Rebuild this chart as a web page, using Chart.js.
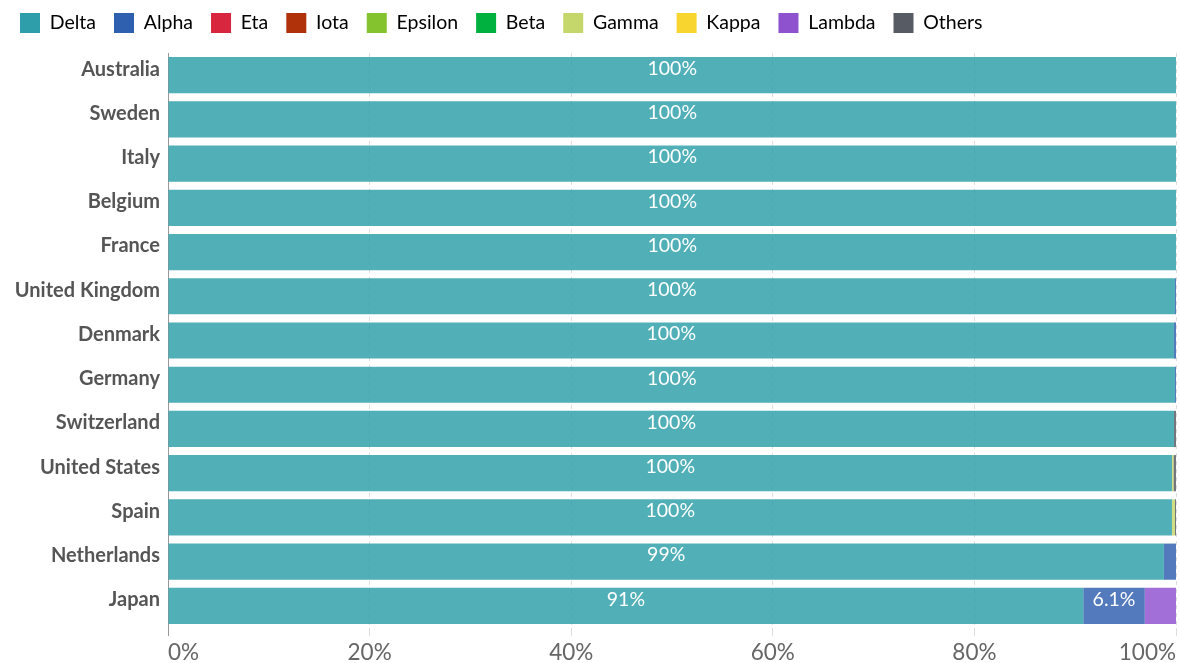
<!DOCTYPE html>
<html>
<head>
<meta charset="utf-8">
<script src="https://cdn.jsdelivr.net/npm/chart.js@4"></script>
<style>
html,body{margin:0;padding:0;background:#fff;overflow:hidden;}
canvas{display:block;}
</style>
</head>
<body>
<canvas id="c" width="1179" height="663"></canvas>
<script>
const countries = ["Australia","Sweden","Italy","Belgium","France","United Kingdom","Denmark","Germany","Switzerland","United States","Spain","Netherlands","Japan"];
const variants = ["Delta","Alpha","Eta","Iota","Epsilon","Beta","Gamma","Kappa","Lambda","Others"];
const colors = ["#2E9FAA","#2F5FAF","#D7263D","#B0320A","#84C22E","#00B140","#C5D66A","#F9D52F","#8E52CF","#575B63"];
const delta   = [100,100,100,100,100,99.9,99.8,99.9,99.8,99.6,99.6,98.8,90.8];
const alpha   = [0,0,0,0,0,0.1,0.2,0.1,0,0,0,1.2,6.1];
const eta     = [0,0,0,0,0,0,0,0,0,0,0,0,0];
const iota    = [0,0,0,0,0,0,0,0,0,0,0,0,0];
const epsilon = [0,0,0,0,0,0,0,0,0,0,0,0,0];
const beta    = [0,0,0,0,0,0,0,0,0,0,0,0,0];
const gamma   = [0,0,0,0,0,0,0,0,0,0.15,0.3,0,0];
const kappa   = [0,0,0,0,0,0,0,0,0,0,0,0,0];
const lambda  = [0,0,0,0,0,0,0,0,0,0,0,0,3.1];
const others  = [0,0,0,0,0,0,0,0,0.2,0.25,0.1,0,0];
const xTicks = [0,20,40,60,80,100];

const series = [delta,alpha,eta,iota,epsilon,beta,gamma,kappa,lambda,others];

function hexA(h,a){const r=parseInt(h.slice(1,3),16),g=parseInt(h.slice(3,5),16),b=parseInt(h.slice(5,7),16);return `rgba(${r},${g},${b},${a})`;}

const labelPlugin = {
  id:'segLabels',
  afterDatasetsDraw(chart){
    const ctx = chart.ctx;
    ctx.save();
    ctx.font = '19.5px Lato';
    ctx.fillStyle = '#ffffff';
    ctx.textAlign = 'center';
    ctx.textBaseline = 'middle';
    chart.data.datasets.forEach((ds,di)=>{
      const meta = chart.getDatasetMeta(di);
      meta.data.forEach((el,i)=>{
        const v = ds.data[i];
        const w = Math.abs(el.x - el.base);
        if (!v || w < 45) return;
        const txt = (v >= 10 ? Math.round(v) : v.toFixed(1)) + '%';
        ctx.fillText(txt, (el.x + el.base)/2, el.y - 6.5);
      });
    });
    ctx.restore();
  }
};

const legendSpace = {
  id:'legendSpace',
  beforeInit(chart){
    const fit = chart.legend.fit;
    chart.legend.fit = function(){ fit.bind(chart.legend)(); this.height += 10; };
  }
};

new Chart(document.getElementById('c'), {
  type:'bar',
  data:{
    labels: countries,
    datasets: variants.map((v,i)=>({
      label: v,
      data: series[i],
      backgroundColor: hexA(colors[i],0.83),
      borderWidth: 0,
      barPercentage: 0.818,
      categoryPercentage: 1.0
    }))
  },
  options:{
    indexAxis:'y',
    responsive:false,
    animation:false,
    devicePixelRatio:1,
    layout:{padding:{left:2,right:0,top:-5,bottom:-6}},
    plugins:{
      tooltip:{enabled:false},
      legend:{
        display:true,
        position:'top',
        align:'start',
        labels:{
          boxWidth:20, boxHeight:20,
          padding:18,
          color:'#222',
          font:{family:'Lato', size:19.5},
          generateLabels(chart){
            return chart.data.datasets.map((ds,i)=>({
              text: ds.label, fillStyle: colors[i], strokeStyle: colors[i], lineWidth:0, datasetIndex:i, hidden:false
            }));
          }
        }
      }
    },
    scales:{
      x:{
        stacked:true, min:0, max:100,
        afterBuildTicks(axis){ axis.ticks = xTicks.map(v=>({value:v})); },
        ticks:{ color:'#666', font:{family:'Lato', size:22.5}, padding:3, maxRotation:0, align:'inner', callback:v=>v+'%' },
        grid:{ color:(c)=> c.tick && c.tick.value===0 ? '#999' : '#dddddd', tickLength:8, lineWidth:1,
               tickColor:(c)=> c.tick && c.tick.value===0 ? '#999' : '#dddddd' },
        border:{ display:false, dash:[4,4] }
      },
      y:{
        stacked:true,
        afterFit(scale){ scale.width = 166; },
        ticks:{ color:'#555', font:{family:'Lato', size:20, weight:'bold'}, padding:8, labelOffset:-6 },
        grid:{ display:false, drawTicks:false, tickLength:0 },
        border:{ display:true, color:'#999', width:1 }
      }
    }
  },
  plugins:[labelPlugin, legendSpace]
});
</script>
</body>
</html>
